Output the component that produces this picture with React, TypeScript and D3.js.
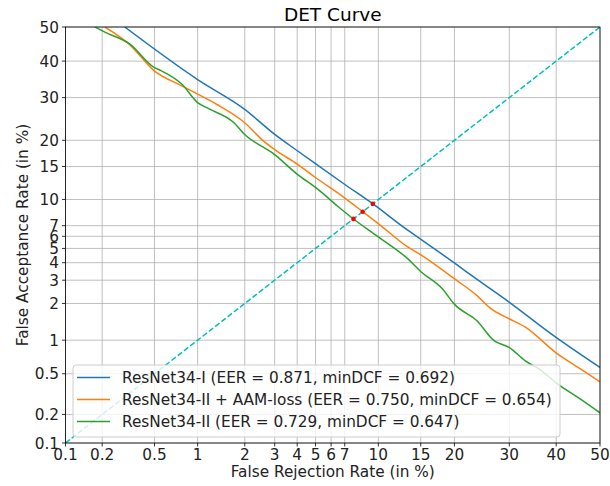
import React from "react";
import * as d3 from "d3";

// ---- data (percent) ----
const tickValues = [0.1, 0.2, 0.5, 1, 2, 3, 4, 5, 6, 7, 10, 15, 20, 30, 40, 50];
const tickLabels = ["0.1", "0.2", "0.5", "1", "2", "3", "4", "5", "6", "7", "10", "15", "20", "30", "40", "50"];

const seriesNames = [
  "ResNet34-I (EER = 0.871, minDCF = 0.692)",
  "ResNet34-II + AAM-loss (EER = 0.750, minDCF = 0.654)",
  "ResNet34-II (EER = 0.729, minDCF = 0.647)",
];
const seriesColors = ["#1f77b4", "#ff7f0e", "#2ca02c"];

// [FRR %, FAR %]
const resnet34I: [number, number][] = [
  [0.3, 50], [1.0, 34.8], [1.99, 27.1], [2.99, 21.3], [4.04, 17.8], [5.04, 15.4],
  [7.01, 12.1], [9.5, 9.4], [13.27, 6.58], [15.07, 5.72], [20.1, 3.95], [23.8, 3.05],
  [29.95, 2.05], [39.9, 1.06], [50, 0.571],
];
const resnet34IIAAM: [number, number][] = [
  [0.21, 50], [0.327, 44.8], [0.496, 37.3], [0.78, 33.1], [1.0, 30.9], [1.33, 28.3],
  [1.99, 23.9], [2.52, 20.2], [2.99, 18.15], [4.04, 15.34], [5.04, 13.1], [7.01, 10.19],
  [8.56, 8.45], [9.96, 7.24], [13.27, 5.13], [15.07, 4.51], [20.1, 3.05], [23.8, 2.31],
  [26.4, 1.82], [29.95, 1.51], [33.3, 1.29], [39.9, 0.78], [45.6, 0.551], [50, 0.419],
];
const resnet34II: [number, number][] = [
  [0.175, 50], [0.21, 48.5], [0.327, 45.0], [0.496, 38.2], [0.557, 37.3], [0.78, 33.6],
  [1.0, 28.7], [1.2, 27.1], [1.71, 23.9], [1.99, 21.3], [2.99, 17.2], [4.04, 13.6],
  [5.04, 11.6], [6.49, 9.12], [7.65, 7.74], [9.96, 5.97], [13.27, 4.28], [15.07, 3.44],
  [18.06, 2.6], [20.1, 1.95], [23.8, 1.46], [27.0, 0.99], [29.95, 0.866], [33.3, 0.657],
  [36.3, 0.551], [39.9, 0.413], [45.6, 0.284], [50, 0.208],
];
const eerPoints = [9.45, 8.5, 7.7];
const diagonal = [0.1, 50];

// ---- probit ----
function probit(p: number): number {
  const a = [-3.969683028665376e1, 2.209460984245205e2, -2.759285104469687e2, 1.38357751867269e2, -3.066479806614716e1, 2.506628277459239];
  const b = [-5.447609879822406e1, 1.615858368580409e2, -1.556989798598866e2, 6.680131188771972e1, -1.328068155288572e1];
  const c = [-7.784894002430293e-3, -3.223964580411365e-1, -2.400758277161838, -2.549732539343734, 4.374664141464968, 2.938163982698783];
  const d = [7.784695709041462e-3, 3.224671290700398e-1, 2.445134137142996, 3.754408661907416];
  const pl = 0.02425;
  if (p < pl) {
    const q = Math.sqrt(-2 * Math.log(p));
    return (((((c[0] * q + c[1]) * q + c[2]) * q + c[3]) * q + c[4]) * q + c[5]) / ((((d[0] * q + d[1]) * q + d[2]) * q + d[3]) * q + 1);
  } else if (p <= 1 - pl) {
    const q = p - 0.5;
    const r = q * q;
    return ((((((a[0] * r + a[1]) * r + a[2]) * r + a[3]) * r + a[4]) * r + a[5]) * q) / (((((b[0] * r + b[1]) * r + b[2]) * r + b[3]) * r + b[4]) * r + 1);
  } else {
    const q = Math.sqrt(-2 * Math.log(1 - p));
    return -(((((c[0] * q + c[1]) * q + c[2]) * q + c[3]) * q + c[4]) * q + c[5]) / ((((d[0] * q + d[1]) * q + d[2]) * q + d[3]) * q + 1);
  }
}

const W = 610, H = 486;
const left = 65.5, right = 600, top = 27, bottom = 443;
const font = "DejaVu Sans, sans-serif";
const fs = 15.3;

export default function App() {
  const xLin = d3.scaleLinear().domain([probit(0.001), probit(0.5)]).range([left, right]);
  const yLin = d3.scaleLinear().domain([probit(0.001), probit(0.5)]).range([bottom, top]);
  const x = (v: number) => xLin(probit(v / 100));
  const y = (v: number) => yLin(probit(v / 100));
  const line = d3.line<[number, number]>().x((d) => x(d[0])).y((d) => y(d[1])).curve(d3.curveMonotoneX);
  const series = [resnet34I, resnet34IIAAM, resnet34II];

  const legX = 73, legY = 365, legW = 487, legH = 72;
  const rowY = [377.5, 399.5, 421.5];

  return (
    <svg width={W} height={H} style={{ position: "absolute", left: 0, top: 0, background: "#fff" }} fontFamily={font}>
      <defs>
        <clipPath id="plotclip">
          <rect x={left} y={top} width={right - left} height={bottom - top} />
        </clipPath>
      </defs>
      <rect x={0} y={0} width={W} height={H} fill="#fff" />
      {/* grid */}
      {tickValues.map((t) => (
        <line key={"gx" + t} x1={x(t)} x2={x(t)} y1={top} y2={bottom} stroke="#b0b0b0" strokeWidth={0.8} />
      ))}
      {tickValues.map((t) => (
        <line key={"gy" + t} x1={left} x2={right} y1={y(t)} y2={y(t)} stroke="#b0b0b0" strokeWidth={0.8} />
      ))}
      <g clipPath="url(#plotclip)">
        {series.map((s, i) => (
          <path key={i} d={line(s) || ""} fill="none" stroke={seriesColors[i]} strokeWidth={1.5} strokeLinejoin="round" />
        ))}
        <line x1={x(diagonal[0])} y1={y(diagonal[0])} x2={x(diagonal[1])} y2={y(diagonal[1])} stroke="#00bfbf" strokeWidth={1.5} strokeDasharray="5.5,2.4" />
        {eerPoints.map((e, i) => (
          <circle key={i} cx={x(e)} cy={y(e)} r={2.3} fill="red" />
        ))}
      </g>
      {/* spines */}
      <rect x={left} y={top} width={right - left} height={bottom - top} fill="none" stroke="#000" strokeWidth={0.8} />
      {/* ticks */}
      {tickValues.map((t, i) => (
        <g key={"tx" + t}>
          <line x1={x(t)} x2={x(t)} y1={bottom} y2={bottom + 3.5} stroke="#000" strokeWidth={0.8} />
          <text x={x(t)} y={460} textAnchor="middle" fontSize={fs} fill="#222">{tickLabels[i]}</text>
        </g>
      ))}
      {tickValues.map((t, i) => (
        <g key={"ty" + t}>
          <line x1={left - 3.5} x2={left} y1={y(t)} y2={y(t)} stroke="#000" strokeWidth={0.8} />
          <text x={left - 6.5} y={y(t) + 5.5} textAnchor="end" fontSize={fs} fill="#222">{tickLabels[i]}</text>
        </g>
      ))}
      {/* labels */}
      <text x={(left + right) / 2} y={21} textAnchor="middle" fontSize={18.5} fill="#000">DET Curve</text>
      <text x={(left + right) / 2} y={477} textAnchor="middle" fontSize={fs} fill="#222">False Rejection Rate (in %)</text>
      <text transform={`translate(28,${(top + bottom) / 2}) rotate(-90)`} textAnchor="middle" fontSize={fs} fill="#222">False Acceptance Rate (in %)</text>
      {/* legend */}
      <rect x={legX} y={legY} width={legW} height={legH} rx={3} ry={3} fill="#fff" fillOpacity={0.8} stroke="#cccccc" strokeWidth={1} />
      {seriesNames.map((n, i) => (
        <g key={"lg" + i}>
          <line x1={77} x2={110} y1={rowY[i]} y2={rowY[i]} stroke={seriesColors[i]} strokeWidth={1.5} />
          <text x={122} y={rowY[i] + 5.5} fontSize={fs} fill="#222">{n}</text>
        </g>
      ))}
    </svg>
  );
}
